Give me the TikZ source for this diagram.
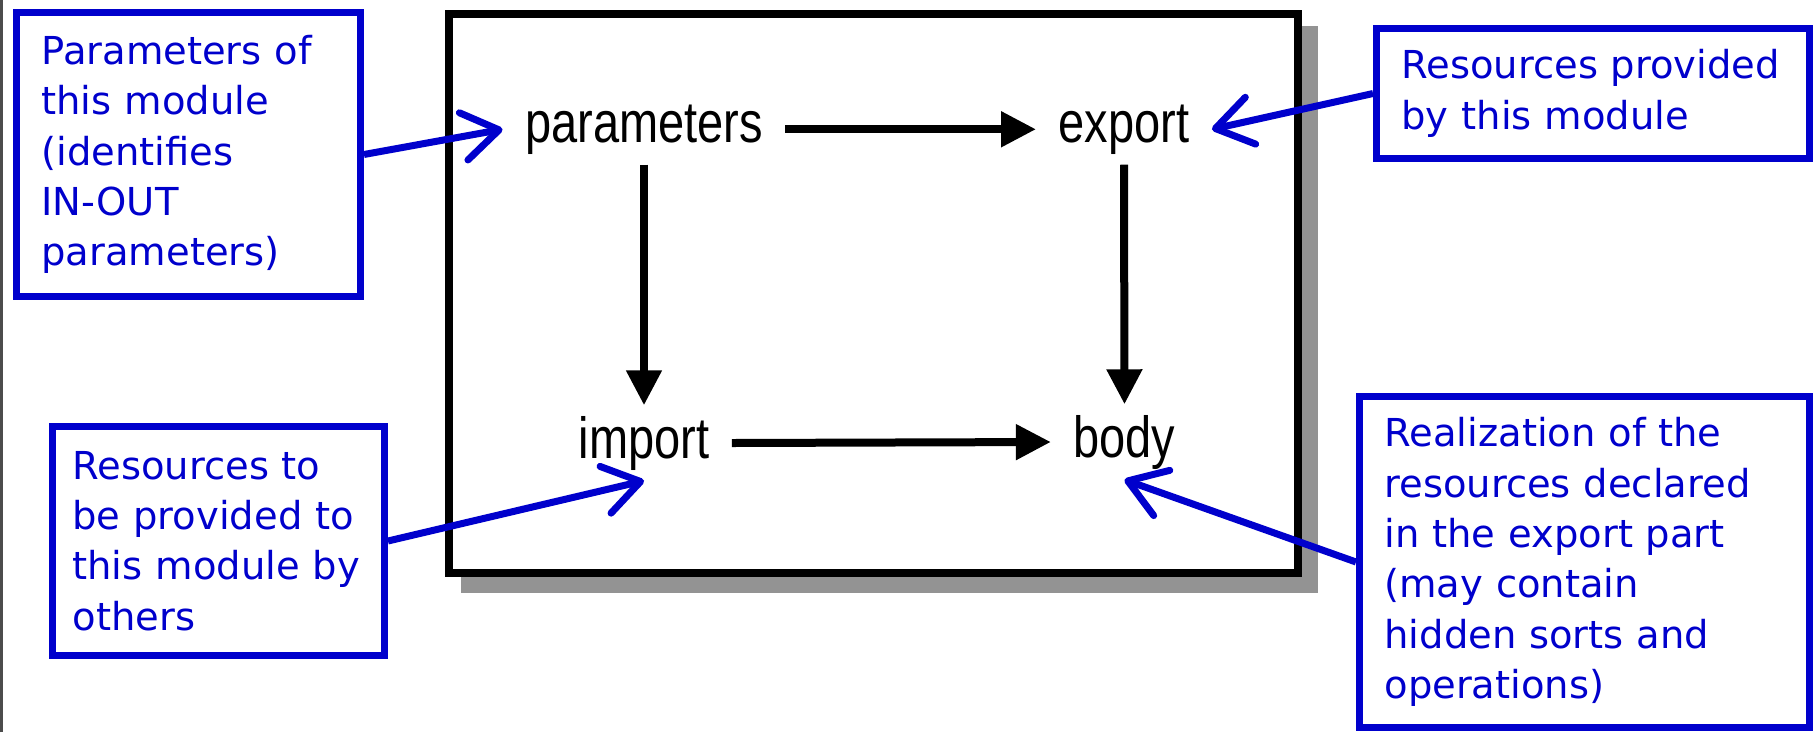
\documentclass[tikz,border=0pt]{standalone}
\usepackage{fontspec}
\usepackage{tikz}
\usetikzlibrary{arrows.meta}
\newfontfamily\notefont{DejaVu Sans}
\newfontfamily\partfont[FakeStretch=0.81]{Liberation Sans}
\definecolor{noteblue}{RGB}{0,0,204}
\definecolor{shadowgray}{RGB}{147,147,147}

\begin{document}
\begin{tikzpicture}[
  part/.style={font=\partfont\fontsize{16.5}{20}\selectfont, anchor=base, inner xsep=2.2mm, inner ysep=1mm},
  note/.style={draw=noteblue, line width=0.7mm, text=noteblue, align=left, inner xsep=2.5mm, inner ysep=0pt,
    font=\notefont\fontsize{10.95}{14.3}\selectfont},
  flow/.style={line width=0.8mm, -{Triangle[length=3.5mm,width=3.4mm]}},
  pointer/.style={draw=noteblue, line width=0.7mm, -{Straight Barb[length=3.6mm,width=4.8mm,round]}}]
  \useasboundingbox (0,0) rectangle (18.2,7.32);
  \draw[line width=0.3mm, black!70] (0.015,0) -- (0.015,7.32);
  \fill[shadowgray] (4.61,1.39) rectangle (13.18,7.06);
  \filldraw[fill=white, line width=0.8mm] (4.49,1.59) rectangle (12.98,7.18);
  \node[part] (parameters) at (6.44,5.90) {parameters};
  \node[part] (export) at (11.24,5.90) {export};
  \node[part] (import) at (6.44,2.74) {import};
  \node[part] (body) at (11.245,2.75) {body};
  \draw[flow] (parameters.east) -- (export.west);
  \draw[flow] (import.east) -- (body.west);
  \draw[flow] (parameters.south) -- (import.north);
  \draw[flow] (export.south) -- (body.north);
  \node[note, text width=29.4mm, minimum height=28.4mm] (pnote) at (1.885,5.775)
    {Parameters of\\this module\\(identifies\\IN-OUT\\parameters)};
  \node[note, text width=38.3mm, minimum height=13mm] (enote) at (15.93,6.385)
    {Resources provided\\by this module};
  \node[note, inner xsep=2mm, text width=29.2mm, minimum height=22.9mm] (inote) at (2.185,1.91)
    {Resources to\\be provided to\\this module by\\others};
  \node[note, text width=40mm, minimum height=33.1mm] (bnote) at (15.845,1.70)
    {Realization of the\\resources declared\\in the export part\\(may contain\\hidden sorts and\\operations)};
  \draw[pointer] (pnote.east) -- (parameters.west);
  \draw[pointer] (enote.west) -- (export.east);
  \draw[pointer] (inote.east) -- (import.south);
  \draw[pointer] (bnote.west) -- (body.south);
\end{tikzpicture}
\end{document}
